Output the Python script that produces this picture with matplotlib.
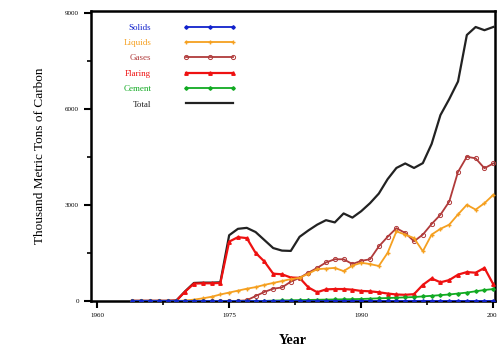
import numpy as np
import matplotlib
matplotlib.use('Agg')
import matplotlib.pyplot as plt

# Annual series, thousand metric tons of carbon
years = list(range(1964, 2006))

solids = [0] * 42

liquids = [0, 0, 0, 0, 0, 0, 10, 40, 80, 130, 200, 260, 320, 380, 430, 500,
           560, 620, 680, 720, 850, 990, 1010, 1030, 930, 1100, 1190, 1150,
           1090, 1500, 2170, 2070, 1960, 1550, 2070, 2250, 2380, 2700, 3000,
           2850, 3050, 3310]

gases = [0, 0, 0, 0, 0, 0, 0, 0, 0, 0, 0, 0, 0, 20, 150, 280, 380, 420, 600,
         720, 880, 1030, 1200, 1300, 1300, 1150, 1250, 1300, 1700, 2000, 2270,
         2120, 1860, 2070, 2400, 2690, 3100, 4030, 4500, 4450, 4140, 4290]

flaring = [0, 0, 0, 0, 0, 10, 290, 540, 550, 550, 560, 1850, 1990, 1960, 1500,
           1230, 850, 830, 730, 720, 420, 270, 360, 370, 370, 350, 310, 300,
           270, 230, 200, 190, 210, 500, 700, 580, 650, 820, 900, 880, 1030, 520]

cement = [0] * 16 + [10, 15, 20, 25, 30, 35, 40, 45, 50, 55, 60, 70, 80, 90,
                     100, 110, 120, 140, 160, 180, 200, 230, 260, 300, 340, 370]

total = [0, 0, 0, 0, 0, 10, 300, 560, 570, 570, 580, 2050, 2250, 2280, 2150,
         1900, 1650, 1570, 1560, 2000, 2200, 2380, 2520, 2450, 2730, 2600, 2800,
         3050, 3350, 3800, 4150, 4290, 4150, 4300, 4900, 5800, 6300, 6850, 8300,
         8550, 8450, 8550]

xticks = [1960, 1975, 1990, 2005]
yticks = [0, 3000, 6000, 9000]

plt.rcParams['font.family'] = ['Liberation Serif', 'DejaVu Serif']

fig = plt.figure(figsize=(4.97, 3.54), dpi=100)
ax = fig.add_axes([0.183, 0.150, 0.813, 0.819])

ax.plot(years, total, color='#222222', lw=1.6, label='Total', zorder=2)
ax.plot(years, flaring, color='#ee1111', lw=1.6, marker='^', ms=2.5,
        label='Flaring', zorder=3)
ax.plot(years, gases, color='#b03a3a', lw=1.3, marker='o', ms=3, mfc='none',
        mew=0.7, label='Gases', zorder=4)
ax.plot(years, liquids, color='#f5a020', lw=1.3, marker='+', ms=3,
        label='Liquids', zorder=4)
ax.plot(years, cement, color='#11aa22', lw=1.3, marker='D', ms=1.8,
        label='Cement', zorder=5)
ax.plot(years, solids, color='#1122cc', lw=1.3, marker='D', ms=1.8,
        label='Solids', zorder=6)

ax.set_xlim(1959.3, 2005.2)
ax.set_ylim(0, 9050)
ax.set_xticks(xticks)
ax.set_yticks(yticks)
ax.set_xticks([1967.5, 1982.5, 1997.5], minor=True)
ax.set_yticks([1500, 4500, 7500], minor=True)
ax.tick_params(which='major', direction='out', length=5, width=1.5, labelsize=5)
ax.tick_params(which='minor', direction='out', length=3, width=1.2)
for s in ax.spines.values():
    s.set_linewidth(1.8)

ax.set_xlabel('Year', fontsize=10, fontweight='bold', labelpad=12)
ax.set_ylabel('Thousand Metric Tons of Carbon', fontsize=9.5, labelpad=14)

h, l = ax.get_legend_handles_labels()
order = ['Solids', 'Liquids', 'Gases', 'Flaring', 'Cement', 'Total']
hs = [h[l.index(n)] for n in order]
leg = ax.legend(hs, order, loc='upper left', bbox_to_anchor=(0.06, 0.985),
                frameon=False, markerfirst=False, fontsize=6.5, numpoints=3,
                handlelength=5.8, labelspacing=0.78, handletextpad=3.6,
                labelcolor='linecolor')

fig.savefig('out.png', dpi=100)
